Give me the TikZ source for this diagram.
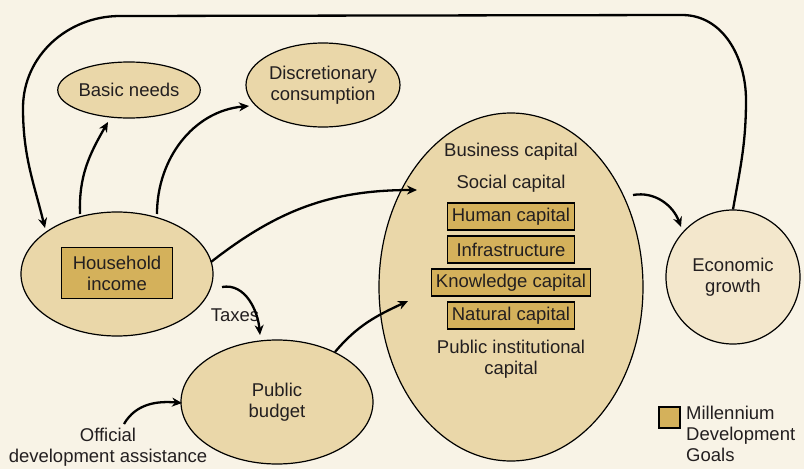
\documentclass[tikz,border=0pt]{standalone}
\usepackage{fontspec}
\setmainfont{Liberation Sans}
\usetikzlibrary{shapes.geometric,arrows.meta}
\definecolor{bgc}{HTML}{F8F3E6}
\definecolor{ellc}{HTML}{EAD7A9}
\definecolor{boxc}{HTML}{D4B15B}
\definecolor{egc}{HTML}{F3E7CC}
\definecolor{txtc}{HTML}{231F20}
\tikzset{
  ell/.style={ellipse, draw=black, line width=1.2pt, fill=ellc, inner sep=0pt, align=center, text=txtc},
  mdg/.style={rectangle, draw=black, line width=1.2pt, fill=boxc, inner sep=0pt, align=center, text=txtc},
  lbl/.style={inner sep=0pt, align=center, text=txtc},
  arr/.style={line width=2.3pt, -{Stealth[length=10pt,width=9pt]}}
}
\begin{document}
\begin{tikzpicture}[x=1pt,y=-1pt,font=\fontsize{18.5}{21}\selectfont]
\useasboundingbox (0,0) rectangle (804,469);
\fill[bgc] (0,0) rectangle (804,469);

% nodes
\node[ell, minimum width=130, minimum height=56] (bn) at (129,90) {Basic needs};
\node[ell, minimum width=154, minimum height=84] (dc) at (323,85) {Discretionary\\consumption};
\node[ell, minimum width=192, minimum height=124] (hh) at (117,274) {};
\node[mdg, minimum width=111, minimum height=51] (hhbox) at (117,273) {Household\\income};
\node[ell, minimum width=192, minimum height=124] (pb) at (277,402) {Public\\budget};
\node[ell, minimum width=264, minimum height=348] (cap) at (511,287) {};
\node[ell, fill=egc, minimum width=134, minimum height=134] (eg) at (733,277) {Economic\\growth};

\node[lbl] (bc) at (511,152) {Business capital};
\node[lbl] (sc) at (511,184) {Social capital};
\node[mdg, minimum width=127, minimum height=27] (hc) at (511,216.5) {Human capital};
\node[mdg, minimum width=127, minimum height=27] (inf) at (511,249.5) {Infrastructure};
\node[mdg, minimum width=159, minimum height=27] (kc) at (511,282.5) {Knowledge capital};
\node[mdg, minimum width=127, minimum height=27] (nc) at (511,315.5) {Natural capital};
\node[lbl] (pic) at (511,359.5) {Public institutional\\capital};

\node[lbl] (oda) at (108,447.5) {Official\\development assistance};
\node[lbl] (tax) at (235,315) {Taxes};

% legend
\node[mdg, minimum width=21, minimum height=21] (leg) at (669.5,417.5) {};
\node[lbl, anchor=north west, align=left] (legt) at (686,406) {Millennium\\Development\\Goals};

% connector end points
\coordinate (hhA) at (80,214);
\coordinate (hhB) at (157,214);
\coordinate (hhC) at (211,262);
\coordinate (hhD) at (222,287);
\coordinate (bnT) at (108,122);
\coordinate (dcT) at (249,106);
\coordinate (capA) at (417,190);
\coordinate (capB) at (408,301);
\coordinate (capC) at (633,195);
\coordinate (pbA) at (335,352);
\coordinate (pbT) at (260,335);
\coordinate (pbL) at (182,403);
\coordinate (odaA) at (124,424);
\coordinate (egT) at (681,227);
\coordinate (hhT) at (45,228);

\draw[arr] (hhA) to[out=92,in=-120] (bnT);
\draw[arr] (hhB) to[out=90,in=185] (dcT);
\draw[arr] (hhC) to[out=38,in=180] (capA);
\draw[arr] (pbA) to[out=50,in=205] (capB);
\draw[arr] (hhD) to[out=10,in=95] (pbT);
\draw[arr] (odaA) to[out=60,in=175] (pbL);
\draw[arr] (capC) to[out=10,in=110] (egT);
\draw[arr] (eg.north) to[out=80,in=-90] (746,100) to[out=90,in=0] (682,15)
  -- (120,16) to[out=180,in=90] (23,108) to[out=-90,in=104] (hhT);
\end{tikzpicture}
\end{document}
